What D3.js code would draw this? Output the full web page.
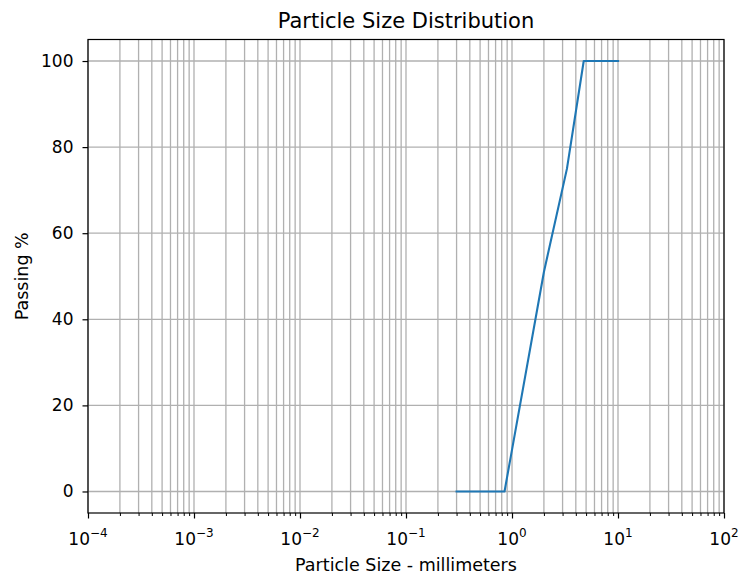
<!DOCTYPE html>
<html>
<head>
<meta charset="utf-8">
<script src="https://cdn.jsdelivr.net/npm/d3@7"></script>
<style>
  body { margin: 0; background: #fff; }
  svg { font-family: "DejaVu Sans", sans-serif; }
</style>
</head>
<body>
<div id="app"></div>
<script>
// ---------- Data ----------
const sizesMm = [0.3, 0.85, 2.0, 3.3, 4.75, 10];
const passingPct = [0, 0, 51, 75, 100, 100];
const yTickValues = [0, 20, 40, 60, 80, 100];
const xTickExponents = [-4, -3, -2, -1, 0, 1, 2];

// ---------- Layout ----------
const WIDTH = 739, HEIGHT = 576;
const LEFT = 88, RIGHT = 724, TOP = 39.5, BOTTOM = 513;
const GRID_COLOR = "#b0b0b0";

const svg = d3.select("#app").append("svg")
    .attr("width", WIDTH)
    .attr("height", HEIGHT);

const x = d3.scaleLog().domain([1e-4, 1e2]).range([LEFT, RIGHT]);
const y = d3.scaleLinear().domain([-5, 105]).range([BOTTOM, TOP]);

const majorX = xTickExponents.map(e => Math.pow(10, e));
const minorX = x.ticks().filter(v => !majorX.some(m => Math.abs(m - v) / m < 1e-9));

// ---------- Grid ----------
const grid = svg.append("g").attr("class", "grid")
    .attr("stroke", GRID_COLOR).attr("stroke-width", 1.3);

grid.selectAll("line.vx")
    .data(majorX.concat(minorX))
    .join("line")
    .attr("class", "vx")
    .attr("x1", d => x(d)).attr("x2", d => x(d))
    .attr("y1", TOP).attr("y2", BOTTOM);

grid.selectAll("line.hy")
    .data(yTickValues)
    .join("line")
    .attr("class", "hy")
    .attr("x1", LEFT).attr("x2", RIGHT)
    .attr("y1", d => y(d)).attr("y2", d => y(d));

// ---------- Line ----------
const points = sizesMm.map((s, i) => [s, passingPct[i]]);
svg.append("path")
    .datum(points)
    .attr("fill", "none")
    .attr("stroke", "#1f77b4")
    .attr("stroke-width", 2.1)
    .attr("stroke-linecap", "square")
    .attr("stroke-linejoin", "round")
    .attr("d", d3.line().x(d => x(d[0])).y(d => y(d[1])));

// ---------- Axes ----------
const xAxis = svg.append("g")
    .attr("transform", `translate(0,${BOTTOM})`)
    .call(d3.axisBottom(x).tickValues(majorX).tickSize(5.5).tickFormat(() => ""));
xAxis.select(".domain").remove();
xAxis.selectAll(".tick line").attr("stroke", "#000").attr("stroke-width", 1.2);

const xMinor = svg.append("g")
    .attr("transform", `translate(0,${BOTTOM})`)
    .call(d3.axisBottom(x).tickValues(minorX).tickSize(3).tickFormat(() => ""));
xMinor.select(".domain").remove();
xMinor.selectAll(".tick line").attr("stroke", "#000").attr("stroke-width", 1);

// x tick labels as 10 with superscript exponent
const xLabels = svg.append("g");
xTickExponents.forEach(e => {
    const t = xLabels.append("text")
        .attr("x", x(Math.pow(10, e)))
        .attr("y", 545)
        .attr("text-anchor", "middle")
        .attr("font-size", 17)
        .attr("fill", "#000");
    t.append("tspan").text("10");
    t.append("tspan")
        .attr("dy", -8)
        .attr("font-size", 12)
        .text(e < 0 ? "\u2212" + Math.abs(e) : String(e));
});

const yAxis = svg.append("g")
    .attr("transform", `translate(${LEFT},0)`)
    .call(d3.axisLeft(y).tickValues(yTickValues).tickSize(5.5).tickPadding(9));
yAxis.select(".domain").remove();
yAxis.selectAll(".tick line").attr("stroke", "#000").attr("stroke-width", 1.2);
yAxis.selectAll(".tick text")
    .attr("font-size", 17)
    .attr("font-family", "DejaVu Sans")
    .attr("fill", "#000");

// spines
svg.append("rect")
    .attr("x", LEFT).attr("y", TOP)
    .attr("width", RIGHT - LEFT).attr("height", BOTTOM - TOP)
    .attr("fill", "none")
    .attr("stroke", "#000")
    .attr("stroke-width", 1.2);

// ---------- Labels ----------
svg.append("text")
    .attr("x", (LEFT + RIGHT) / 2)
    .attr("y", 28)
    .attr("text-anchor", "middle")
    .attr("font-size", 21)
    .text("Particle Size Distribution");

svg.append("text")
    .attr("x", (LEFT + RIGHT) / 2)
    .attr("y", 571)
    .attr("text-anchor", "middle")
    .attr("font-size", 17.5)
    .text("Particle Size - millimeters");

svg.append("text")
    .attr("transform", `translate(28,${(TOP + BOTTOM) / 2}) rotate(-90)`)
    .attr("text-anchor", "middle")
    .attr("font-size", 17.5)
    .text("Passing %");
</script>
</body>
</html>
